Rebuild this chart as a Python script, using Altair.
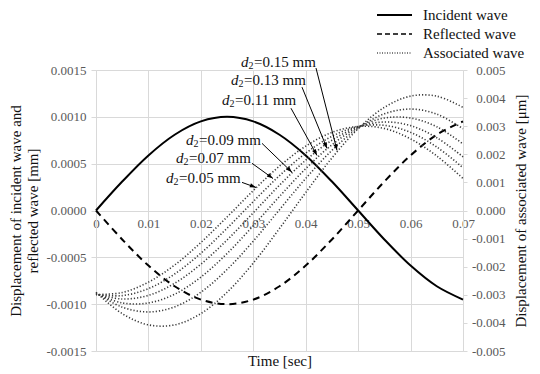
import math
import altair as alt
import pandas as pd

# ---------------- data ----------------
time = [0.000, 0.005, 0.010, 0.015, 0.020, 0.025, 0.030, 0.035,
        0.040, 0.045, 0.050, 0.055, 0.060, 0.065, 0.070]

incident = [0.0, 0.000309, 0.000588, 0.000809, 0.000951, 0.001000, 0.000951, 0.000809,
            0.000588, 0.000309, 0.0, -0.000309, -0.000588, -0.000809, -0.000951]
reflected = [0.0, -0.000309, -0.000588, -0.000809, -0.000951, -0.001000, -0.000951, -0.000809,
             -0.000588, -0.000309, 0.0, 0.000309, 0.000588, 0.000809, 0.000951]

d2_values = ["0.05", "0.07", "0.09", "0.11", "0.13", "0.15"]
assoc_005 = [-0.00299, -0.00292, -0.00255, -0.00194, -0.00114, -0.00023, 0.00071, 0.00158,
             0.00229, 0.00278, 0.00299, 0.00292, 0.00255, 0.00194, 0.00114]
assoc_007 = [-0.00299, -0.00303, -0.00278, -0.00226, -0.00152, -0.00063, 0.00032, 0.00124,
             0.00204, 0.00264, 0.00299, 0.00303, 0.00278, 0.00226, 0.00152]
assoc_009 = [-0.00297, -0.00315, -0.00302, -0.00259, -0.00191, -0.00105, -0.00008, 0.00090,
             0.00179, 0.00250, 0.00297, 0.00315, 0.00302, 0.00259, 0.00191]
assoc_011 = [-0.00296, -0.00329, -0.00329, -0.00298, -0.00237, -0.00153, -0.00054, 0.00050,
             0.00149, 0.00234, 0.00296, 0.00329, 0.00329, 0.00298, 0.00237]
assoc_013 = [-0.00293, -0.00344, -0.00361, -0.00343, -0.00291, -0.00210, -0.00109, 0.00003,
             0.00114, 0.00214, 0.00293, 0.00344, 0.00361, 0.00343, 0.00291]
assoc_015 = [-0.00291, -0.00367, -0.00407, -0.00407, -0.00367, -0.00291, -0.00187, -0.00064,
             0.00064, 0.00187, 0.00291, 0.00367, 0.00407, 0.00407, 0.00367]
assoc_series = [assoc_005, assoc_007, assoc_009, assoc_011, assoc_013, assoc_015]

x_ticks = [0, 0.01, 0.02, 0.03, 0.04, 0.05, 0.06, 0.07]
yl_ticks = [-0.0015, -0.0010, -0.0005, 0.0, 0.0005, 0.0010, 0.0015]
yr_ticks = [-0.005, -0.004, -0.003, -0.002, -0.001, 0.0, 0.001, 0.002, 0.003, 0.004, 0.005]

legend_labels = ["Incident wave", "Reflected wave", "Associated wave"]

# annotations (d2 labels and arrows, in time / associated-axis units)
ann_d2 = ["0.15", "0.13", "0.11", "0.09", "0.07", "0.05"]
ann_t = [0.02766, 0.02575, 0.02403, 0.01717, 0.01526, 0.01335]
ann_v = [0.00529, 0.00464, 0.00393, 0.00250, 0.00186, 0.00114]
arr_t1 = [0.04196, 0.03929, 0.03719, 0.03166, 0.02975, 0.02785]
arr_v1 = [0.00507, 0.00439, 0.00364, 0.00239, 0.00168, 0.00100]
arr_t2 = [0.04597, 0.04406, 0.04215, 0.03738, 0.03376, 0.03052]
arr_v2 = [0.00214, 0.00221, 0.00196, 0.00136, 0.00114, 0.00082]

# ---------------- layout / style ----------------
W, H = 367, 281
FONT = "Liberation Serif"
GRID = "#d9d9d9"
LABEL_C = "#595959"
TEXT_C = "#111111"

xs = alt.Scale(domain=[0, 0.07], nice=False, zero=False)
yls = alt.Scale(domain=[-0.0015, 0.0015], nice=False, zero=False)
yrs = alt.Scale(domain=[-0.005, 0.005], nice=False, zero=False)

MINUS_FIX = "replace(format(datum.value, '{f}'), '\u2212', '-')"

x_axis_main = alt.Axis(values=x_ticks, grid=True, gridColor=GRID, gridWidth=1,
                       labels=False, ticks=False, domain=False,
                       title="Time [sec]", titleFont=FONT, titleFontSize=15,
                       titleFontWeight="normal", titleColor=TEXT_C, titlePadding=2)
x_axis_zero = alt.Axis(values=x_ticks, orient="bottom", offset=-H / 2, grid=False,
                       domain=False, ticks=False, labelFlush=False,
                       labelExpr="datum.value == 0 ? '0' : format(datum.value, '.2f')",
                       labelFont=FONT, labelFontSize=13, labelColor=LABEL_C,
                       labelPadding=7, title=None)
yl_axis = alt.Axis(values=yl_ticks, orient="left", grid=True, gridColor=GRID, gridWidth=1,
                   domain=True, domainColor=GRID, ticks=True, tickColor=GRID, tickSize=5,
                   labelExpr=MINUS_FIX.format(f=".4f"), labelFont=FONT, labelFontSize=13,
                   labelColor=LABEL_C, labelPadding=5,
                   title=["Displacement of incident wave and", "reflected wave [mm]"],
                   titleFont=FONT, titleFontSize=15, titleFontWeight="normal",
                   titleColor=TEXT_C, titlePadding=5, titleLineHeight=17)
yr_axis = alt.Axis(values=yr_ticks, orient="right", grid=False,
                   domain=True, domainColor=GRID, ticks=True, tickColor=GRID, tickSize=4,
                   labelExpr=MINUS_FIX.format(f=".3f"), labelFont=FONT, labelFontSize=13,
                   labelColor=LABEL_C, labelAlign="right", labelPadding=38,
                   title="Displacement of associated wave [\u03bcm]",
                   titleFont=FONT, titleFontSize=15, titleFontWeight="normal",
                   titleColor=TEXT_C, titleAngle=270, titleBaseline="top",
                   titlePadding=8)

# ---------------- left group (incident / reflected) ----------------
wave_df = pd.DataFrame({"t": time, "incident": incident, "reflected": reflected})

X_L = alt.X("t:Q", scale=xs, axis=x_axis_main)

incident_line = alt.Chart(wave_df).mark_line(
    color="black", strokeWidth=2, interpolate="catmull-rom"
).encode(x=X_L, y=alt.Y("incident:Q", scale=yls, axis=yl_axis))

reflected_line = alt.Chart(wave_df).mark_line(
    color="black", strokeWidth=2, strokeDash=[7, 5], interpolate="catmull-rom"
).encode(x=X_L, y=alt.Y("reflected:Q", scale=yls, axis=yl_axis))

# legend (drawn above the plot area)
leg_df = pd.DataFrame({"k": [0]})
leg_y = [-55, -36, -17]
leg_dash = [[1, 0], [5, 3], [1, 1.5]]
leg_w = [2, 1.5, 1.2]
legend_layers = []
for lab, ly, dash, sw in zip(legend_labels, leg_y, leg_dash, leg_w):
    legend_layers.append(
        alt.Chart(leg_df).mark_rule(color="black", strokeWidth=sw, strokeDash=dash).encode(
            x=alt.value(281), x2=alt.value(316), y=alt.value(ly)))
    legend_layers.append(
        alt.Chart(leg_df).mark_text(align="left", baseline="middle", font=FONT,
                                    fontSize=15, color=TEXT_C).encode(
            x=alt.value(327), y=alt.value(ly), text=alt.value(lab)))

left_group = alt.layer(incident_line, reflected_line, *legend_layers)

# ---------------- right group (associated waves + annotations) ----------------
rows = []
for d2, series in zip(d2_values, assoc_series):
    for t, v in zip(time, series):
        rows.append({"t": t, "v": v, "d2": d2})
assoc_df = pd.DataFrame(rows)

X_R = alt.X("t:Q", scale=xs, axis=x_axis_zero)

assoc_lines = alt.Chart(assoc_df).mark_line(
    color="#3a3a3a", strokeWidth=1.6, strokeDash=[1.2, 2.0], interpolate="catmull-rom"
).encode(x=X_R, y=alt.Y("v:Q", scale=yrs, axis=yr_axis), detail="d2:N")

ann_df = pd.DataFrame({"t": ann_t, "v": ann_v,
                       "rest": ["=" + d + " mm" for d in ann_d2]})
X_A = alt.X("t:Q", scale=xs, axis=x_axis_zero)
Y_A = alt.Y("v:Q", scale=yrs, axis=yr_axis)
txt_d = alt.Chart(ann_df).mark_text(align="left", baseline="middle", font=FONT, fontSize=15,
                                    fontStyle="italic", color=TEXT_C).encode(
    x=X_A, y=Y_A, text=alt.value("d"))
txt_2 = alt.Chart(ann_df).mark_text(align="left", baseline="middle", font=FONT, fontSize=10,
                                    color=TEXT_C, dx=7.5, dy=4).encode(
    x=X_A, y=Y_A, text=alt.value("2"))
txt_rest = alt.Chart(ann_df).mark_text(align="left", baseline="middle", font=FONT, fontSize=15,
                                       color=TEXT_C, dx=13).encode(
    x=X_A, y=Y_A, text="rest:N")

angles = []
for a, b, c, d in zip(arr_t1, arr_v1, arr_t2, arr_v2):
    dx = (c - a) / 0.07 * W
    dy = -(d - b) / 0.01 * H
    angles.append(math.degrees(math.atan2(dx, -dy)) % 360)
arr_df = pd.DataFrame({"t1": arr_t1, "v1": arr_v1, "t2": arr_t2, "v2": arr_v2, "ang": angles})

arrow_lines = alt.Chart(arr_df).mark_rule(color="black", strokeWidth=1).encode(
    x=alt.X("t1:Q", scale=xs, axis=x_axis_zero), y=alt.Y("v1:Q", scale=yrs, axis=yr_axis),
    x2="t2:Q", y2="v2:Q")
arrow_heads = alt.Chart(arr_df).mark_point(
    shape="M0,0L-0.45,1.3L0.45,1.3Z", filled=True, size=90, color="black", opacity=1,
    strokeWidth=0).encode(
    x=alt.X("t2:Q", scale=xs, axis=x_axis_zero), y=alt.Y("v2:Q", scale=yrs, axis=yr_axis),
    angle=alt.Angle("ang:Q", scale=None))

right_group = alt.layer(assoc_lines, arrow_lines, arrow_heads, txt_d, txt_2, txt_rest)

chart = alt.layer(left_group, right_group).resolve_scale(
    y="independent"
).resolve_axis(
    x="independent", y="independent"
).properties(
    width=W, height=H, padding={"left": 0, "top": 0, "right": 2, "bottom": 2},
    background="white"
).configure_view(stroke=None).configure_axis(
    labelFont=FONT, titleFont=FONT, titleFontWeight="normal"
)

chart.save("out.html", embed_options={"renderer": "svg", "actions": False})
